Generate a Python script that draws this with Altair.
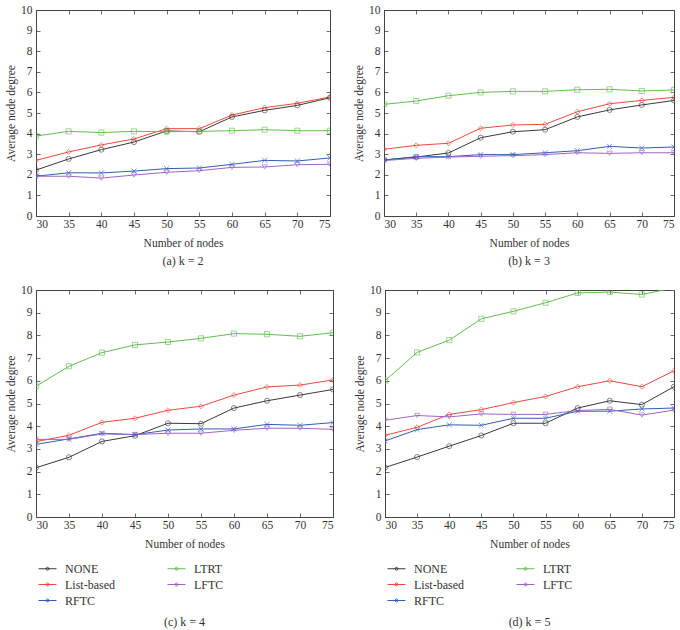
import altair as alt
import pandas as pd

nodes = [30, 35, 40, 45, 50, 55, 60, 65, 70, 75]
series_order = ["NONE", "List-based", "RFTC", "LTRT", "LFTC"]
series_colors = ["#3a3a3a", "#ea4a3c", "#2f5fb3", "#62bd4f", "#a064c8"]
series_shapes = [
    "circle",
    "diamond",
    "M-1,-1L1,1M-1,1L1,-1",
    "square",
    "triangle-down",
]

# panel (a) k = 2
a_none = [2.23, 2.77, 3.22, 3.59, 4.13, 4.09, 4.81, 5.13, 5.37, 5.74]
a_list = [2.70, 3.11, 3.45, 3.74, 4.24, 4.24, 4.90, 5.26, 5.47, 5.78]
a_rftc = [1.93, 2.10, 2.09, 2.18, 2.30, 2.33, 2.51, 2.70, 2.67, 2.82]
a_ltrt = [3.88, 4.11, 4.05, 4.11, 4.09, 4.11, 4.14, 4.19, 4.14, 4.14]
a_lftc = [1.93, 1.93, 1.84, 1.99, 2.12, 2.20, 2.36, 2.38, 2.49, 2.51]

# panel (b) k = 3
b_none = [2.72, 2.86, 3.06, 3.80, 4.09, 4.19, 4.81, 5.15, 5.39, 5.61]
b_list = [3.24, 3.43, 3.53, 4.26, 4.42, 4.45, 5.06, 5.45, 5.61, 5.76]
b_rftc = [2.72, 2.88, 2.88, 2.98, 2.98, 3.07, 3.17, 3.38, 3.30, 3.35]
b_ltrt = [5.42, 5.58, 5.84, 6.00, 6.05, 6.05, 6.13, 6.15, 6.07, 6.12]
b_lftc = [2.69, 2.80, 2.86, 2.90, 2.93, 2.98, 3.07, 3.04, 3.07, 3.07]

# panel (c) k = 4
c_none = [2.17, 2.63, 3.33, 3.58, 4.13, 4.11, 4.80, 5.12, 5.37, 5.62]
c_list = [3.32, 3.60, 4.17, 4.35, 4.70, 4.88, 5.37, 5.73, 5.81, 6.04]
c_rftc = [3.20, 3.44, 3.69, 3.63, 3.83, 3.88, 3.88, 4.08, 4.04, 4.16]
c_ltrt = [5.76, 6.64, 7.24, 7.58, 7.71, 7.87, 8.08, 8.05, 7.96, 8.12]
c_lftc = [3.42, 3.42, 3.66, 3.63, 3.69, 3.69, 3.82, 3.91, 3.91, 3.86]

# panel (d) k = 5
d_none = [2.18, 2.64, 3.12, 3.59, 4.13, 4.13, 4.80, 5.12, 4.95, 5.74]
d_list = [3.60, 3.95, 4.52, 4.73, 5.04, 5.31, 5.74, 6.00, 5.74, 6.44]
d_rftc = [3.35, 3.85, 4.06, 4.04, 4.35, 4.35, 4.66, 4.66, 4.76, 4.80]
d_ltrt = [6.00, 7.25, 7.79, 8.73, 9.06, 9.44, 9.87, 9.91, 9.80, 10.10]
d_lftc = [4.26, 4.47, 4.41, 4.54, 4.52, 4.52, 4.69, 4.74, 4.49, 4.71]

FONT = "Liberation Serif"
TXT = "#333333"


def make_df(none, lst, rftc, ltrt, lftc):
    rows = []
    for name, vals in [("NONE", none), ("List-based", lst), ("RFTC", rftc),
                       ("LTRT", ltrt), ("LFTC", lftc)]:
        for n, v in zip(nodes, vals):
            rows.append({"nodes": n, "degree": v, "series": name})
    return pd.DataFrame(rows)


def panel(df, label, width, height, show_legend):
    base = alt.Chart(df)
    xscale = alt.Scale(domain=[30, 75], nice=False, zero=False)
    yscale = alt.Scale(domain=[0, 10], nice=False)
    common_axis = dict(
        offset=-4, tickSize=4, domain=False, grid=False,
        tickColor="#444444", tickWidth=0.8,
        labelFont=FONT, labelFontSize=11.5, labelColor=TXT,
        titleFont=FONT, titleFontSize=11.5, titleColor=TXT,
        titleFontWeight="normal",
    )
    xaxis = alt.Axis(values=nodes, labelPadding=2, title="Number of nodes",
                     titlePadding=8, **common_axis)
    yaxis = alt.Axis(values=list(range(0, 11)), labelPadding=4,
                     title="Average node degree", titlePadding=4,
                     **common_axis)
    if show_legend:
        legend = alt.Legend(
            title=None, orient="none", legendX=2, legendY=height + 42,
            columns=2, columnPadding=50, rowPadding=0,
            symbolType="M-1,0H1M-0.16,0a0.16,0.16 0 1,0 0.32,0a0.16,0.16 0 1,0 -0.32,0",
            symbolSize=324, symbolStrokeWidth=1, symbolFillColor="transparent",
            labelFont=FONT, labelFontSize=12, labelColor=TXT, labelOffset=8,
        )
    else:
        legend = None
    cscale = alt.Scale(domain=series_order, range=series_colors)
    lines = base.mark_line(strokeWidth=1, clip=True).encode(
        x=alt.X("nodes:Q", scale=xscale, axis=xaxis),
        y=alt.Y("degree:Q", scale=yscale, axis=yaxis),
        color=alt.Color("series:N", scale=cscale, legend=legend),
    )
    points = base.mark_point(filled=False, size=26, strokeWidth=0.9, clip=True).encode(
        x=alt.X("nodes:Q", scale=xscale, axis=None),
        y=alt.Y("degree:Q", scale=yscale, axis=None),
        color=alt.Color("series:N", scale=cscale, legend=None),
        shape=alt.Shape("series:N",
                        scale=alt.Scale(domain=series_order, range=series_shapes),
                        legend=None))
    frame_axis = dict(offset=-4, tickSize=4, domain=False, grid=False,
                      labels=False, title="", tickColor="#444444", tickWidth=0.8)
    frame = base.mark_line(opacity=0).encode(
        x=alt.X("nodes:Q", scale=xscale,
                axis=alt.Axis(orient="top", values=nodes, **frame_axis)),
        y=alt.Y("degree:Q", scale=yscale,
                axis=alt.Axis(orient="right", values=list(range(0, 11)), **frame_axis)),
    )
    return alt.layer(lines, points, frame).resolve_axis(
        x="independent", y="independent"
    ).properties(
        width=width, height=height,
        title=alt.TitleParams(label, orient="bottom", font=FONT, fontSize=12,
                              fontWeight="normal", color=TXT, anchor="middle",
                              offset=10 if show_legend else 7),
    )


pa = panel(make_df(a_none, a_list, a_rftc, a_ltrt, a_lftc), "(a)  k = 2", 294, 206, False)
pb = panel(make_df(b_none, b_list, b_rftc, b_ltrt, b_lftc), "(b)  k = 3", 290, 206, False)
pc = panel(make_df(c_none, c_list, c_rftc, c_ltrt, c_lftc), "(c)  k = 4", 297, 227, True)
pd_ = panel(make_df(d_none, d_list, d_rftc, d_ltrt, d_lftc), "(d)  k = 5", 289, 227, True)

top = alt.hconcat(pa, pb, spacing=22).resolve_scale(color="independent")
bottom = alt.hconcat(pc, pd_, spacing=20).resolve_scale(color="independent")
chart = alt.vconcat(top, bottom, spacing=15).resolve_scale(
    color="independent"
).properties(
    padding={"left": 5, "top": 3, "right": 5, "bottom": 0},
    background="white",
).configure_view(stroke="#444444", strokeWidth=1)

chart.save("out.html", embed_options={"renderer": "svg", "actions": False})
